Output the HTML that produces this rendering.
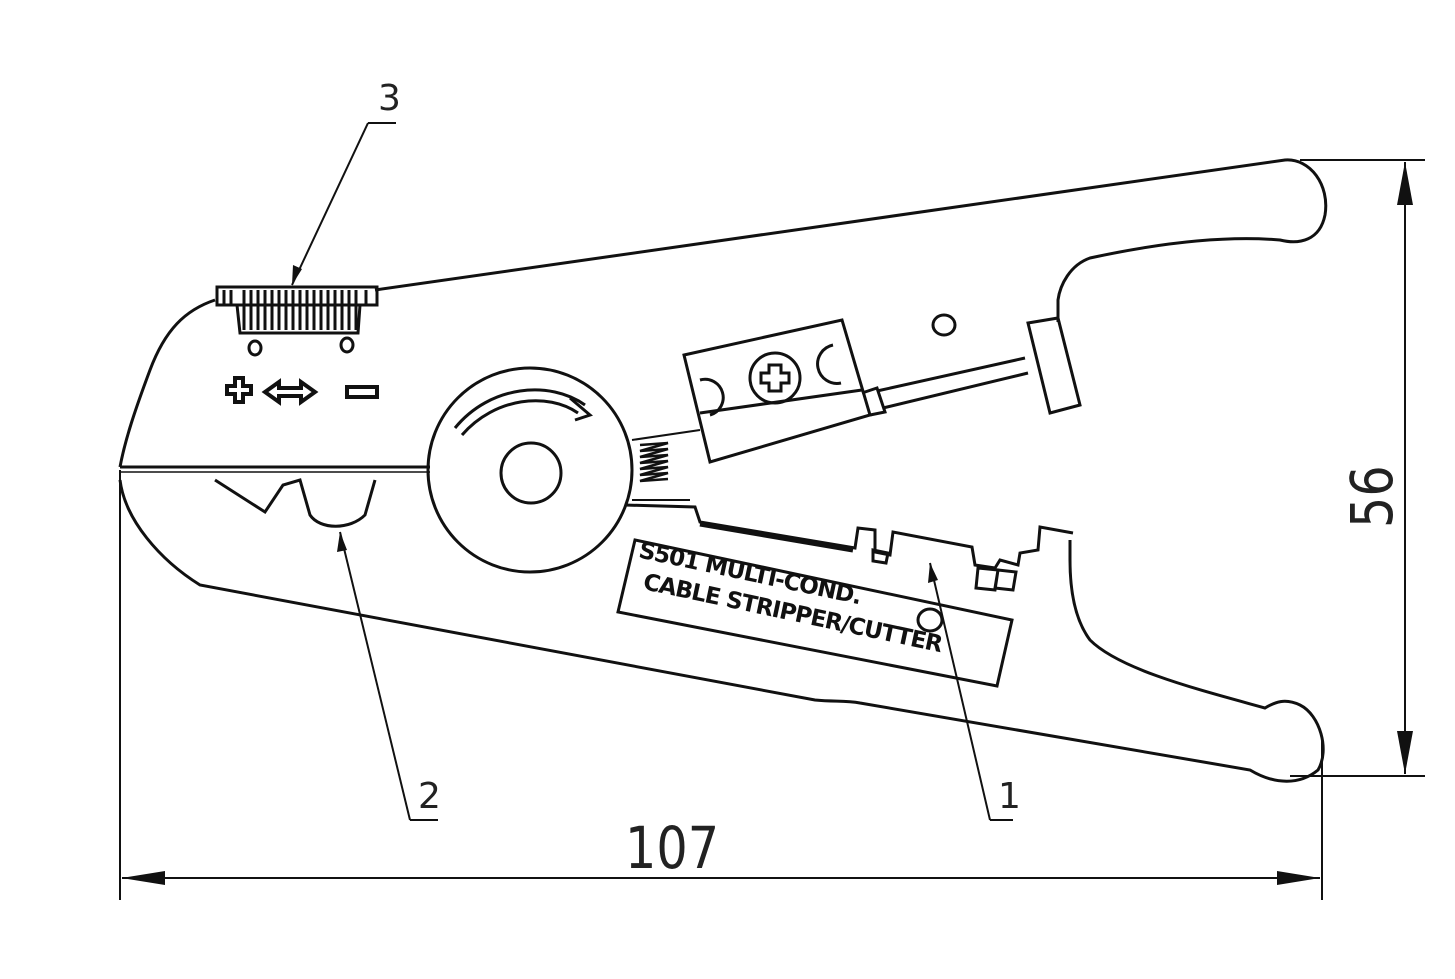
<!DOCTYPE html>
<html><head><style>body{margin:0;background:#fff}svg{display:block}</style></head>
<body>
<svg width="1455" height="979" viewBox="0 0 1455 979" xmlns="http://www.w3.org/2000/svg" fill="none" stroke="#111" stroke-width="3" font-family="Liberation Sans, sans-serif">
<path d="M215,300 C185,310 165,330 150,370 C135,410 125,440 120,467"/>
<path d="M375,290 L1285,160 C1310,158 1330,185 1325,215 C1320,240 1300,245 1280,240 C1220,235 1150,245 1090,258 C1070,265 1060,285 1058,300 L1058,322"/>
<line x1="120" y1="467" x2="430" y2="467"/>
<line x1="120" y1="472" x2="430" y2="472" stroke-width="1.5"/>
<rect x="217" y="287" width="160" height="18"/>
<path d="M237,305 L240,333 L358,333 L360,305"/>
<g stroke-width="3">
<path d="M224,290 V304 M231,290 V304 M244,290 V330 M251,290 V330 M258,290 V330 M265,290 V330 M272,290 V330 M279,290 V330 M286,290 V330 M293,290 V330 M300,290 V330 M307,290 V330 M314,290 V330 M321,290 V330 M328,290 V330 M335,290 V330 M342,290 V330 M349,290 V330 M356,290 V330 M366,290 V304"/>
</g>
<ellipse cx="255" cy="348" rx="6" ry="7"/><ellipse cx="347" cy="345" rx="6" ry="7"/>
<path d="M235,378 h8 v8 h8 v8 h-8 v8 h-8 v-8 h-8 v-8 h8z" stroke-width="4"/>
<path d="M265,392 l14,-10 v6 h22 v-6 l14,10 l-14,10 v-6 h-22 v6z" stroke-width="4"/>
<rect x="347" y="387" width="30" height="10" stroke-width="4"/>
<path d="M120,480 C125,520 160,560 200,585 L815,700 C835,702 845,700 860,703 L1250,770 C1275,785 1300,785 1318,770 C1330,750 1320,715 1300,705 C1285,698 1275,702 1265,708 C1200,690 1120,670 1090,640 C1075,620 1070,590 1070,560 L1070,540"/>
<path d="M215,480 L265,512 L283,485 L300,480 L310,515 C320,530 350,530 365,515 L375,480"/>
<circle cx="530" cy="470" r="102"/>
<circle cx="531" cy="473" r="30"/>
<path d="M455,428 C490,385 550,380 585,405" />
<path d="M462,435 C495,397 548,392 578,413"/>
<path d="M570,398 L590,415 L575,420"/>
<path d="M632,440 L700,430 M632,500 L690,500" stroke-width="2"/>
<path d="M640,445 l28,-2 l-28,8 l28,-2 l-28,8 l28,-2 l-28,8 l28,-2 l-28,8 l28,-2 l-28,8 l28,-2 l-28,8 l28,-2" stroke-width="2.5"/>
<path d="M684,355 L842,320 L870,415 L710,462 Z"/>
<path d="M700,413 L862,390"/>
<circle cx="775" cy="378" r="25"/>
<path d="M769,365 h12 v8 h8 v10 h-8 v8 h-12 v-8 h-8 v-10 h8z"/>
<path d="M700,380 a18,18 0 0 1 10,35"/>
<path d="M833,345 a18,18 0 0 0 8,38"/>
<path d="M862,393 L877,388 L885,412 L870,415"/>
<path d="M877,391 L1025,358 M883,408 L1028,373"/>
<path d="M1028,323 L1058,318 L1080,405 L1050,413 Z"/>
<ellipse cx="944" cy="325" rx="11" ry="10"/>
<path d="M625,505 L695,507 L700,522 L855,548 L858,528 L875,530 L875,552 L890,555 L893,532 L972,547 L975,565 L995,568 L1000,560 L1018,565 L1020,553 L1038,550 L1040,527 L1073,533"/>
<path d="M700,524 L853,550" stroke-width="5"/>
<path d="M873,550 L888,553 L886,563 L873,561Z M978,568 L998,570 L995,590 L976,588Z M998,570 L1016,572 L1013,590 L995,588Z"/>
<ellipse cx="930" cy="620" rx="12" ry="11"/>
<path d="M635,540 L1012,620 L997,686 L618,612 Z"/>
<g transform="translate(805,603) rotate(12)" fill="#111" stroke="none" font-weight="bold" font-size="23" text-anchor="middle" font-family="DejaVu Sans, sans-serif" letter-spacing="-1">
<text x="-60" y="-10">S501 MULTI-COND.</text>
<text x="-10" y="20">CABLE STRIPPER/CUTTER</text>
</g>
<g stroke-width="2">
<line x1="1300" y1="160" x2="1425" y2="160"/>
<line x1="1290" y1="776" x2="1425" y2="776"/>
<line x1="1405" y1="162" x2="1405" y2="774"/>
<line x1="120" y1="470" x2="120" y2="900"/>
<line x1="1322" y1="740" x2="1322" y2="900"/>
<line x1="122" y1="878" x2="1320" y2="878"/>
<line x1="368" y1="123" x2="396" y2="123"/><line x1="368" y1="123" x2="292" y2="285"/>
<line x1="410" y1="820" x2="438" y2="820"/><line x1="410" y1="820" x2="340" y2="532"/>
<line x1="990" y1="820" x2="1013" y2="820"/><line x1="990" y1="820" x2="930" y2="563"/>
</g>
<g fill="#111" stroke="none">
<path d="M1405,162 L1397,205 L1413,205Z"/><path d="M1405,774 L1397,731 L1413,731Z"/>
<path d="M122,878 L165,871 L165,885Z"/><path d="M1320,878 L1277,871 L1277,885Z"/>
<path d="M292,285 L293,265 L302,269Z"/><path d="M340,532 L337,552 L347,550Z"/><path d="M930,563 L928,583 L938,580Z"/>
</g>
<g fill="#222" stroke="none" font-family="DejaVu Sans, sans-serif">
<text x="378" y="110" font-size="36" transform="scale(1,1)">3</text>
<text x="418" y="808" font-size="36">2</text>
<text x="998" y="808" font-size="36">1</text>
<text transform="translate(625,868) scale(0.85,1)" font-size="58">107</text>
<text transform="translate(1392,528) rotate(-90) scale(0.85,1)" font-size="58">56</text>
</g>
</svg>
</body></html>
